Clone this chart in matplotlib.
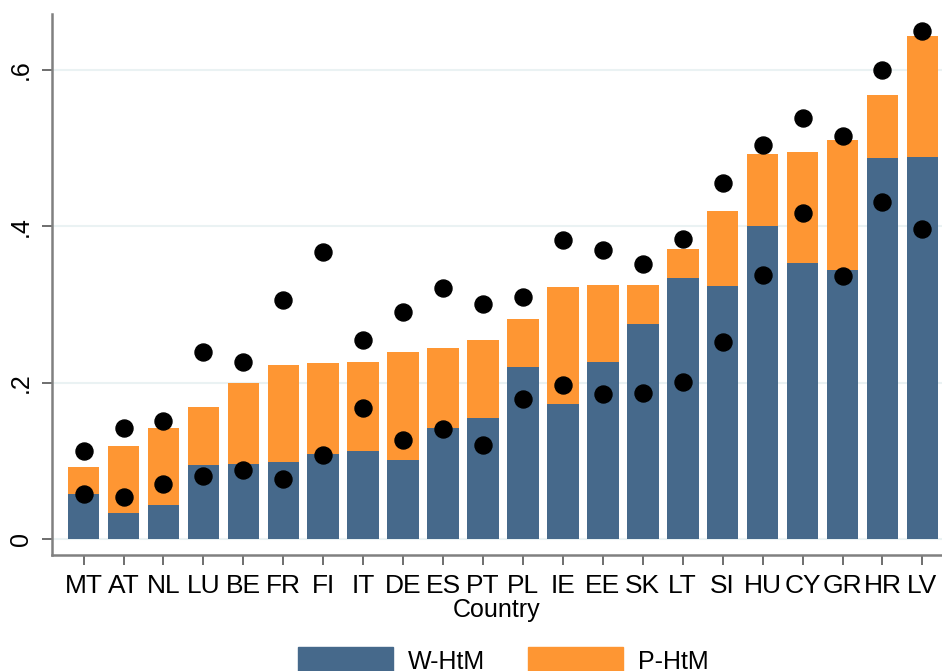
import numpy as np
import matplotlib
matplotlib.use("Agg")
import matplotlib.pyplot as plt
from matplotlib.patches import Patch

plt.rcParams['font.family'] = ['Liberation Sans', 'DejaVu Sans']

# Datos (proporcion de hogares hand-to-mouth por pais)
paises = ['MT', 'AT', 'NL', 'LU', 'BE', 'FR', 'FI', 'IT', 'DE', 'ES', 'PT',
          'PL', 'IE', 'EE', 'SK', 'LT', 'SI', 'HU', 'CY', 'GR', 'HR', 'LV']
w_htm = [0.057, 0.033, 0.044, 0.095, 0.096, 0.098, 0.109, 0.112, 0.101, 0.142, 0.155,
         0.220, 0.173, 0.227, 0.275, 0.334, 0.323, 0.401, 0.353, 0.344, 0.488, 0.489]
total_htm = [0.092, 0.119, 0.142, 0.169, 0.200, 0.222, 0.225, 0.226, 0.239, 0.244, 0.255,
             0.281, 0.322, 0.325, 0.325, 0.371, 0.419, 0.492, 0.495, 0.511, 0.568, 0.644]
punto_alto = [0.113, 0.142, 0.151, 0.239, 0.226, 0.306, 0.367, 0.255, 0.291, 0.321, 0.300,
              0.310, 0.383, 0.370, 0.352, 0.384, 0.456, 0.504, 0.538, 0.516, 0.600, 0.650]
punto_bajo = [0.058, 0.054, 0.070, 0.081, 0.088, 0.077, 0.108, 0.167, 0.127, 0.141, 0.120,
              0.179, 0.197, 0.186, 0.187, 0.201, 0.252, 0.338, 0.417, 0.337, 0.431, 0.396]

azul = '#46698b'
naranja = '#fe9633'

w = np.array(w_htm)
p = np.array(total_htm) - w
x = np.arange(len(paises))

fig = plt.figure(figsize=(9.42, 6.71), dpi=100)
ax = fig.add_axes([0.0552, 0.1729, 0.9448, 0.8062])

ax.bar(x, w, width=0.79, color=azul, zorder=2)
ax.bar(x, p, bottom=w, width=0.79, color=naranja, zorder=2)
ax.scatter(x, punto_alto, s=150, color='black', zorder=3)
ax.scatter(x, punto_bajo, s=150, color='black', zorder=3)

ax.set_xlim(-0.79, 21.49)
ax.set_ylim(-0.0205, 0.6716)
ax.set_yticks([0, 0.2, 0.4, 0.6])
ax.set_yticklabels(['0', '.2', '.4', '.6'], rotation=90, va='center', fontsize=18)
ax.set_xticks(x)
ax.set_xticklabels(paises, fontsize=19)
ax.tick_params(axis='both', length=7.5, width=1.2, color='#555555', pad=6)
ax.grid(True, axis='y', color='#eaf2f3', linewidth=1.5, zorder=0)
ax.set_axisbelow(True)
ax.set_xlabel('Country', fontsize=18, labelpad=0)

for lado in ['top', 'right']:
    ax.spines[lado].set_visible(False)
for lado in ['left', 'bottom']:
    ax.spines[lado].set_color('#808080')
    ax.spines[lado].set_linewidth(1.8)

handles = [Patch(color=azul, label='W-HtM'), Patch(color=naranja, label='P-HtM')]
fig.legend(handles=handles, loc='upper center', bbox_to_anchor=(0.534, 1 - 647 / 671),
           ncol=2, frameon=False, fontsize=18, handlelength=3.8, handleheight=1.3,
           handletextpad=0.6, columnspacing=1.7, borderaxespad=0, borderpad=0)

fig.savefig('out.png', dpi=100)
